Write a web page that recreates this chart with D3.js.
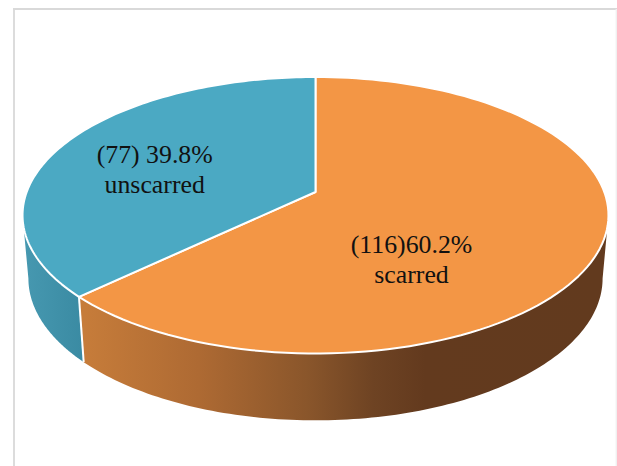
<!DOCTYPE html>
<html>
<head>
<meta charset="utf-8">
<script src="https://cdn.jsdelivr.net/npm/d3@7"></script>
<style>
    html, body { margin: 0; padding: 0; background: #fff; overflow: hidden; }
    svg { display: block; }
    text { font-family: "Liberation Serif", serif; font-size: 25.8px; fill: #111; text-anchor: middle; }
</style>
</head>
<body>
<div id="chart"></div>
<script>
const categories = ["scarred", "unscarred"];
const counts = [116, 77];
const percentLabels = ["(116)60.2%", "(77) 39.8%"];

const width = 617, height = 466;
const colors = ["#f39645", "#4ba9c3"];
const rad = Math.PI / 180;

// perspective of the disc: vertex sits above the middle of the ellipse
const cx = 315.5, vertexY = 192, persp = -0.168;
const scaleX = 288.8, scaleY = 102.1;
// the office 3d pie skews its slice angles a little
const skew = 0.295;
const warp = a => a - skew * Math.sin(a);

const topPoint = a => {
    let u = Math.sin(a), v = -Math.cos(a), w = 1 + persp * v;
    return [cx + scaleX * u / w, (scaleY * v + vertexY) / w];
};
// rim of the bottom face, slightly narrower and flatter
const bottomPoint = a => {
    let p = topPoint(a);
    return [cx + (p[0] - cx) * 0.98, vertexY + (p[1] - vertexY) * 1.027 + 62.5];
};

const svg = d3.select("#chart").append("svg")
    .attr("width", width)
    .attr("height", height);

const defs = svg.append("defs");
const gradient = (id, x1, x2, stops) => {
    let g = defs.append("linearGradient")
        .attr("id", id)
        .attr("gradientUnits", "userSpaceOnUse")
        .attr("x1", x1).attr("x2", x2)
        .attr("y1", 0).attr("y2", 0);
    stops.forEach(s => g.append("stop").attr("offset", s[0]).attr("stop-color", s[1]));
};
gradient("wall0", 85, 600, [[0, "#c67c3a"], [0.22, "#ae6a33"], [0.43, "#8a562b"], [0.56, "#6e4323"], [0.66, "#633a1e"], [1, "#623a1e"]]);
gradient("wall1", 25, 85, [[0, "#4698b0"], [1, "#3a8aa2"]]);

// chart frame, the right edge has nearly faded out in the scan
const frame = (x1, y1, x2, y2, color) => svg.append("line")
    .attr("x1", x1).attr("y1", y1)
    .attr("x2", x2).attr("y2", y2)
    .attr("stroke", color)
    .attr("stroke-width", 1.8);
frame(14, 9, 14, height, "#d9d9d9");
frame(13, 9, 617, 9, "#d9d9d9");
frame(616.5, 9, 616.5, height, "#f0f0f0");

const pie = d3.pie().sort(null).startAngle(0).endAngle(2 * Math.PI);
const slices = pie(counts);
const line = d3.line();

const sample = (a0, a1) => d3.range(0, 121).map(i => a0 + (a1 - a0) * i / 120);

// side walls, only the part facing us
const wallFrom = 99.7 * rad, wallTo = 260.3 * rad;
slices.forEach((s, i) => {
    let a0 = Math.max(warp(s.startAngle), wallFrom);
    let a1 = Math.min(warp(s.endAngle), wallTo);
    let angles = sample(a0, a1);
    let pts = angles.map(topPoint).concat(angles.reverse().map(bottomPoint));
    svg.append("path")
        .attr("d", line(pts) + "Z")
        .attr("fill", "url(#wall" + i + ")");
});

// white seam between the two walls
svg.append("path")
    .attr("d", line([topPoint(warp(slices[0].endAngle)), bottomPoint(warp(slices[0].endAngle))]))
    .attr("stroke", "#fff")
    .attr("stroke-width", 2)
    .attr("fill", "none");

// top faces
slices.forEach((s, i) => {
    let pts = sample(warp(s.startAngle), warp(s.endAngle)).map(topPoint);
    pts.unshift([cx, vertexY]);
    svg.append("path")
        .attr("d", line(pts) + "Z")
        .attr("fill", colors[i])
        .attr("stroke", "#fff")
        .attr("stroke-width", 2)
        .attr("stroke-linejoin", "round");
});

// labels
const labelPos = [[411.5, 253], [154.7, 163]];
categories.forEach((c, i) => {
    let label = svg.append("text")
        .attr("x", labelPos[i][0])
        .attr("y", labelPos[i][1]);
    label.append("tspan").attr("x", labelPos[i][0]).text(percentLabels[i]);
    label.append("tspan").attr("x", labelPos[i][0]).attr("dy", 30).text(c);
});
</script>
</body>
</html>
